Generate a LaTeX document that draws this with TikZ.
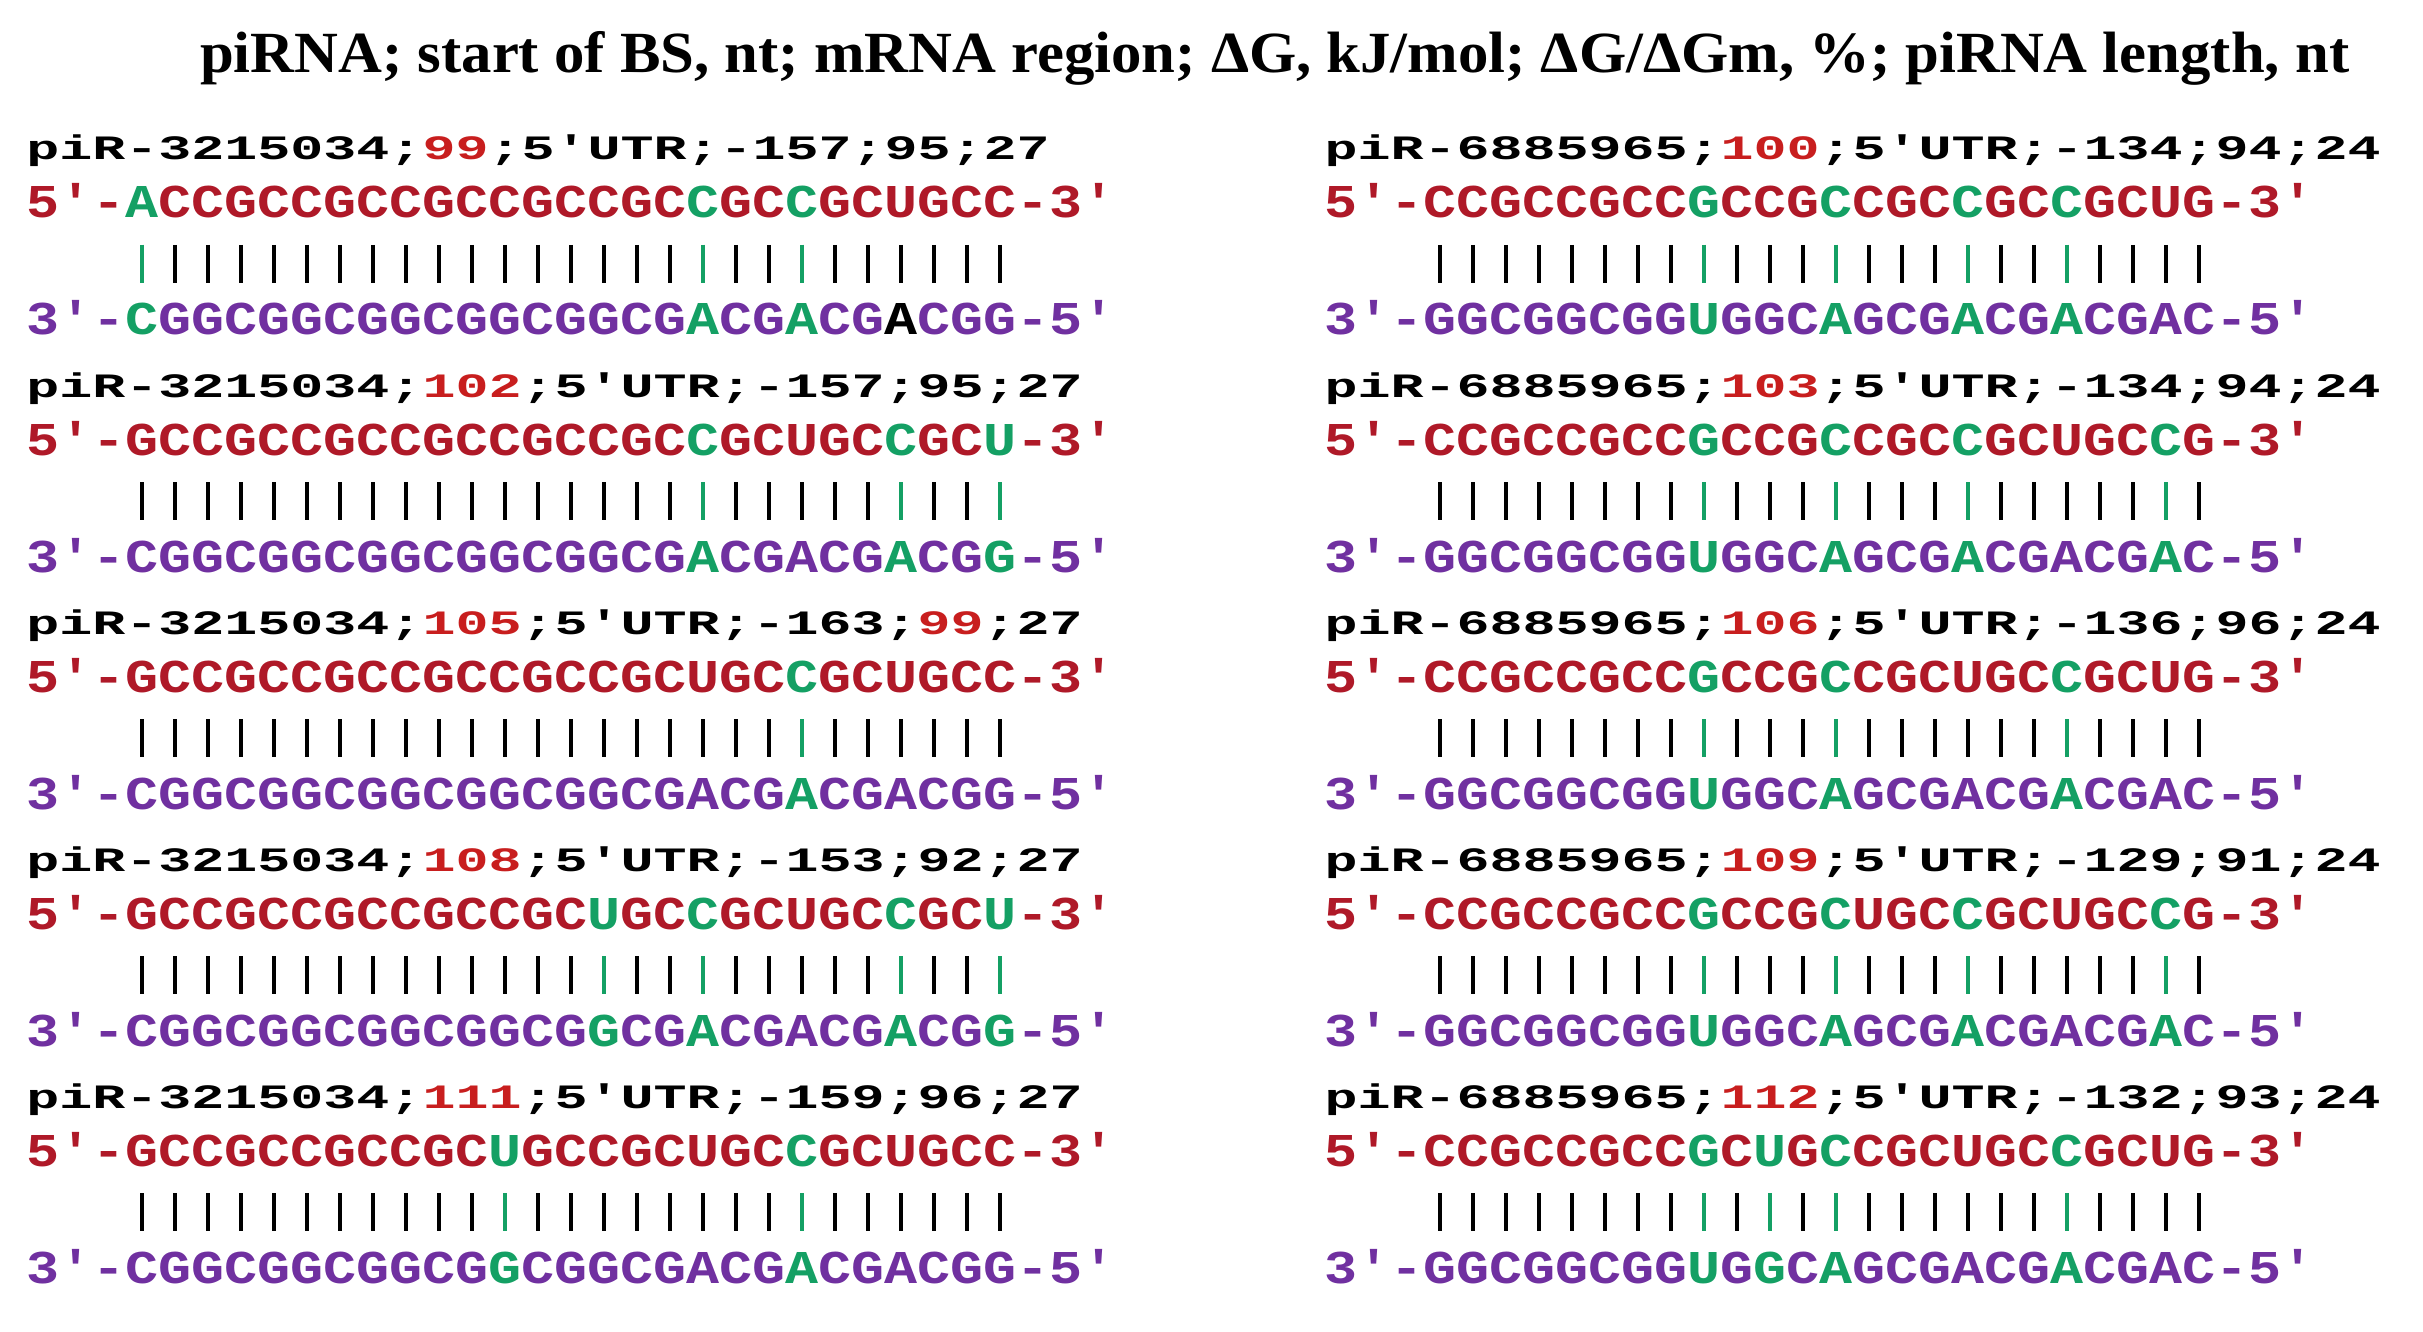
\documentclass[tikz,border=0pt]{standalone}
\usepackage{fontspec}
\setmainfont{Liberation Serif}
\setmonofont{Liberation Mono}
\usepackage{graphicx}
\definecolor{seqred}{RGB}{175,25,40}
\definecolor{numred}{RGB}{200,30,30}
\definecolor{ntgreen}{RGB}{20,160,100}
\definecolor{ntpurple}{RGB}{112,48,160}
\newcommand{\gn}[1]{\textcolor{ntgreen}{#1}}
\newcommand{\rn}[1]{\textcolor{numred}{#1}}
\newcommand{\bk}[1]{\textcolor{black}{#1}}
\newlength\monocap
\newcommand{\seqtxt}[1]{\scalebox{1}[\vseq]{#1}}
\newcommand{\headtxt}[1]{\scalebox{1}[\vhead]{#1}}
% bars: x0, block offset, count, green list
\newcommand{\barrow}[4]{%
  \foreach \k in {1,...,#3} {\draw[barl] ({#1+(\k+2.5)*33},{-245-#2}) -- ++(0,-38);}
  \foreach \k in {#4} {\draw[barl,ntgreen] ({#1+(\k+2.5)*33},{-245-#2}) -- ++(0,-38);}
}
\begin{document}
\settoheight{\monocap}{\ttfamily\bfseries\fontsize{55}{55}\selectfont H}%
\pgfmathsetmacro\vseq{31/\monocap}%
\pgfmathsetmacro\vhead{22.5/\monocap}%
\begin{tikzpicture}[x=1pt,y=1pt,
  mono/.style={anchor=base west, inner sep=0pt, outer sep=0pt,
    font=\ttfamily\bfseries\fontsize{55}{55}\selectfont},
  barl/.style={line width=3.6pt, black}]
\fill[white] (0,0) rectangle (2423,-1332);
\useasboundingbox (0,0) rectangle (2423,-1332);

\node[anchor=base west, inner sep=0pt] (title) at (200,-72.6)
  {\resizebox{2149pt}{\height}{\bfseries\fontsize{58.3}{60}\selectfont piRNA; start of BS, nt; mRNA region; ΔG, kJ/mol; ΔG/ΔGm, \%; piRNA length, nt}};

% ---------------- left column ----------------
\node[mono] (hL1) at (26.5,-160) {\headtxt{piR-3215034;\rn{99};5′UTR;-157;95;27}};
\node[mono] (fL1) at (26.5,-218) {\seqtxt{\color{seqred}5'-\gn{A}CCGCCGCCGCCGCCGC\gn{C}GC\gn{C}GCUGCC-3'}};
\barrow{26.5}{0}{27}{1,18,21}
\node[mono] (tL1) at (26.5,-335) {\seqtxt{\color{ntpurple}3'-\gn{C}GGCGGCGGCGGCGGCG\gn{A}CG\gn{A}CG\bk{A}CGG-5'}};

\node[mono] (hL2) at (26.5,-397) {\headtxt{piR-3215034;\rn{102};5′UTR;-157;95;27}};
\node[mono] (fL2) at (26.5,-455) {\seqtxt{\color{seqred}5'-GCCGCCGCCGCCGCCGC\gn{C}GCUGC\gn{C}GC\gn{U}-3'}};
\barrow{26.5}{237}{27}{18,24,27}
\node[mono] (tL2) at (26.5,-572) {\seqtxt{\color{ntpurple}3'-CGGCGGCGGCGGCGGCG\gn{A}CGACG\gn{A}CG\gn{G}-5'}};

\node[mono] (hL3) at (26.5,-634) {\headtxt{piR-3215034;\rn{105};5′UTR;-163;\rn{99};27}};
\node[mono] (fL3) at (26.5,-692) {\seqtxt{\color{seqred}5'-GCCGCCGCCGCCGCCGCUGC\gn{C}GCUGCC-3'}};
\barrow{26.5}{474}{27}{21}
\node[mono] (tL3) at (26.5,-809) {\seqtxt{\color{ntpurple}3'-CGGCGGCGGCGGCGGCGACG\gn{A}CGACGG-5'}};

\node[mono] (hL4) at (26.5,-871) {\headtxt{piR-3215034;\rn{108};5′UTR;-153;92;27}};
\node[mono] (fL4) at (26.5,-929) {\seqtxt{\color{seqred}5'-GCCGCCGCCGCCGC\gn{U}GC\gn{C}GCUGC\gn{C}GC\gn{U}-3'}};
\barrow{26.5}{711}{27}{15,18,24,27}
\node[mono] (tL4) at (26.5,-1046) {\seqtxt{\color{ntpurple}3'-CGGCGGCGGCGGCG\gn{G}CG\gn{A}CGACG\gn{A}CG\gn{G}-5'}};

\node[mono] (hL5) at (26.5,-1108) {\headtxt{piR-3215034;\rn{111};5′UTR;-159;96;27}};
\node[mono] (fL5) at (26.5,-1166) {\seqtxt{\color{seqred}5'-GCCGCCGCCGC\gn{U}GCCGCUGC\gn{C}GCUGCC-3'}};
\barrow{26.5}{948}{27}{12,21}
\node[mono] (tL5) at (26.5,-1283) {\seqtxt{\color{ntpurple}3'-CGGCGGCGGCG\gn{G}CGGCGACG\gn{A}CGACGG-5'}};

% ---------------- right column ----------------
\node[mono] (hR1) at (1324.5,-160) {\headtxt{piR-6885965;\rn{100};5′UTR;-134;94;24}};
\node[mono] (fR1) at (1324.5,-218) {\seqtxt{\color{seqred}5'-CCGCCGCC\gn{G}CCG\gn{C}CGC\gn{C}GC\gn{C}GCUG-3'}};
\barrow{1324.5}{0}{24}{9,13,17,20}
\node[mono] (tR1) at (1324.5,-335) {\seqtxt{\color{ntpurple}3'-GGCGGCGG\gn{U}GGC\gn{A}GCG\gn{A}CG\gn{A}CGAC-5'}};

\node[mono] (hR2) at (1324.5,-397) {\headtxt{piR-6885965;\rn{103};5′UTR;-134;94;24}};
\node[mono] (fR2) at (1324.5,-455) {\seqtxt{\color{seqred}5'-CCGCCGCC\gn{G}CCG\gn{C}CGC\gn{C}GCUGC\gn{C}G-3'}};
\barrow{1324.5}{237}{24}{9,13,17,23}
\node[mono] (tR2) at (1324.5,-572) {\seqtxt{\color{ntpurple}3'-GGCGGCGG\gn{U}GGC\gn{A}GCG\gn{A}CGACG\gn{A}C-5'}};

\node[mono] (hR3) at (1324.5,-634) {\headtxt{piR-6885965;\rn{106};5′UTR;-136;96;24}};
\node[mono] (fR3) at (1324.5,-692) {\seqtxt{\color{seqred}5'-CCGCCGCC\gn{G}CCG\gn{C}CGCUGC\gn{C}GCUG-3'}};
\barrow{1324.5}{474}{24}{9,13,20}
\node[mono] (tR3) at (1324.5,-809) {\seqtxt{\color{ntpurple}3'-GGCGGCGG\gn{U}GGC\gn{A}GCGACG\gn{A}CGAC-5'}};

\node[mono] (hR4) at (1324.5,-871) {\headtxt{piR-6885965;\rn{109};5′UTR;-129;91;24}};
\node[mono] (fR4) at (1324.5,-929) {\seqtxt{\color{seqred}5'-CCGCCGCC\gn{G}CCG\gn{C}UGC\gn{C}GCUGC\gn{C}G-3'}};
\barrow{1324.5}{711}{24}{9,13,17,23}
\node[mono] (tR4) at (1324.5,-1046) {\seqtxt{\color{ntpurple}3'-GGCGGCGG\gn{U}GGC\gn{A}GCG\gn{A}CGACG\gn{A}C-5'}};

\node[mono] (hR5) at (1324.5,-1108) {\headtxt{piR-6885965;\rn{112};5′UTR;-132;93;24}};
\node[mono] (fR5) at (1324.5,-1166) {\seqtxt{\color{seqred}5'-CCGCCGCC\gn{G}C\gn{U}G\gn{C}CGCUGC\gn{C}GCUG-3'}};
\barrow{1324.5}{948}{24}{9,11,13,20}
\node[mono] (tR5) at (1324.5,-1283) {\seqtxt{\color{ntpurple}3'-GGCGGCGG\gn{U}G\gn{G}C\gn{A}GCGACG\gn{A}CGAC-5'}};
\end{tikzpicture}
\end{document}
